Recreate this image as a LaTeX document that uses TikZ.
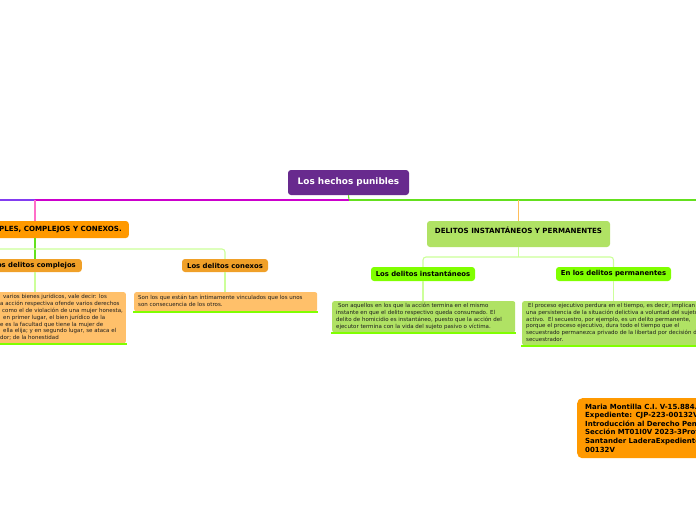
\documentclass[tikz,border=0pt]{standalone}
\usepackage{fontspec}
\setmainfont{DejaVu Sans}
\definecolor{purp}{RGB}{104,42,142}
\definecolor{orA}{RGB}{255,153,0}
\definecolor{orB}{RGB}{240,160,40}
\definecolor{orL}{RGB}{255,192,106}
\definecolor{grL}{RGB}{176,226,100}
\definecolor{grB}{RGB}{128,255,0}
\definecolor{lnMag}{RGB}{204,0,204}
\definecolor{lnBlu}{RGB}{130,60,240}
\definecolor{lnGr}{RGB}{100,224,30}
\definecolor{lnLg}{RGB}{204,255,153}
\definecolor{lnPink}{RGB}{255,110,200}
\definecolor{lnOr}{RGB}{255,190,90}
\definecolor{txt}{RGB}{30,30,30}
\tikzset{
  box/.style={rounded corners=3pt, draw=none, inner sep=0pt},
  ttl/.style={font=\bfseries\fontsize{7.1}{8}\selectfont, text=black},
  sttl/.style={font=\bfseries\fontsize{6.85}{8}\selectfont, text=black},
  small/.style={font=\fontsize{5.5}{6.8}\selectfont, text=txt, align=left, inner sep=0pt},
  conn/.style={line width=1.1pt},
  uline/.style={line width=2pt, draw=grB},
}
\begin{document}
\begin{tikzpicture}[x=1pt,y=-1pt]
\useasboundingbox (0,0) rectangle (696,520);
\fill[white] (0,0) rectangle (696,520);

% root
\node[box, fill=purp, minimum width=121pt, minimum height=25pt, text=white,
  font=\bfseries\fontsize{8.9}{10}\selectfont] (root) at (348.5,182.5) {Los hechos punibles};

% main junction
\coordinate (j) at (349,200);
\coordinate (k1) at (35,200);
\coordinate (lend) at (0,200);
\coordinate (rend) at (696,200);
\coordinate (k2) at (518.5,200);

% left branch
\node[box, fill=orA, minimum height=17pt, inner xsep=7pt, ttl, anchor=east] (simple) at (129,229.5) {DELITOS SIMPLES, COMPLEJOS Y CONEXOS.};
\node[box, fill=orB, minimum height=13pt, inner xsep=6pt, sttl, anchor=east] (compl) at (82,265.5) {Los delitos complejos};
\node[box, fill=orB, minimum width=86pt, minimum height=13pt, sttl] (conex) at (225,265.5) {Los delitos conexos};

\node[box, rounded corners=2pt, fill=orL, minimum width=200pt, minimum height=51pt, anchor=north east] (ctext) at (126,292) {};
\node[small, anchor=north west] (ctextt) at (0,294.3) {\hspace*{3pt}varios bienes jurídicos, vale decir: los\\
a acción respectiva ofende varios derechos\\
\hspace*{2pt}como el de violación de una mujer honesta,\\
\hspace*{3pt}en primer lugar, el bien jurídico de la\\
e es la facultad que tiene la mujer de\\
\hspace*{3pt}ella elija; y en segundo lugar, se ataca el\\
dor; de la honestidad};

\node[box, rounded corners=2pt, fill=orL, minimum width=183pt, minimum height=19pt, anchor=north west] (xtext) at (134,292) {};
\node[small, anchor=north west] (xtextt) at (138,295) {Son los que están tan íntimamente vinculados que los unos\\
son consecuencia de los otros.};

% right branch
\node[box, fill=grL, minimum width=183pt, minimum height=26pt] (dip) at (518.5,234) {};
\node[ttl] (dipt) at (518.5,230.5) {DELITOS INSTANTÁNEOS Y PERMANENTES};
\node[box, fill=grB, minimum width=104pt, minimum height=14pt, sttl] (inst) at (423,274) {Los delitos instantáneos};
\node[box, fill=grB, minimum width=115pt, minimum height=14pt, sttl] (perm) at (613.5,274) {En los delitos permanentes};

\node[box, rounded corners=2pt, fill=grL, minimum width=183pt, minimum height=31pt, anchor=north west] (itext) at (332,301) {};
\node[small, anchor=north west, font=\fontsize{5.5}{6.7}\selectfont] (itextt) at (336,303.3) {\hspace*{2pt}Son aquellos en los que la acción termina en el mismo\\
instante en que el delito respectivo queda consumado. El\\
delito de homicidio es instantáneo, puesto que la acción del\\
ejecutor termina con la vida del sujeto pasivo o víctima.};

\node[box, rounded corners=2pt, fill=grL, minimum width=200pt, minimum height=44pt, anchor=north west] (ptext) at (522,301) {};
\node[small, anchor=north west, font=\fontsize{5.5}{6.7}\selectfont] (ptextt) at (526,303.3) {\hspace*{2pt}El proceso ejecutivo perdura en el tiempo, es decir, implican\\
una persistencia de la situación delictiva a voluntad del sujeto\\
activo.\ \ El secuestro, por ejemplo, es un delito permanente,\\
porque el proceso ejecutivo, dura todo el tiempo que el\\
secuestrado permanezca privado de la libertad por decisión del\\
secuestrador.};

% student box
\node[box, rounded corners=5pt, fill=orA, minimum width=150pt, minimum height=60pt, anchor=north west] (stud) at (577,398) {};
\node[anchor=north west, inner sep=0pt, align=left, font=\bfseries\fontsize{7}{8.6}\selectfont, text=black] (studt) at (585,403.6) {Maria Montilla C.I. V-15.884.\\
Expediente: CJP-223-00132V\\
Introducción al Derecho Penal\\
Sección MT01I0V 2023-3Profesor\\
Santander LaderaExpediente\\
00132V};

% connectors
\draw[conn, lnGr] (root.south) -- (j);
\draw[conn, lnMag] (j) -- (k1);
\draw[conn, lnBlu] (k1) -- (lend);
\draw[conn, lnGr] (j) -- (rend);
\draw[conn, lnPink] (k1) -- (k1 |- simple.north);
\draw[conn, lnGr] (k1 |- simple.south) -- (k1 |- compl.north);
\draw[conn, lnLg] (k1 |- compl.south) -- (k1 |- ctext.north);
\coordinate (lh) at (0,249);
\draw[conn, lnLg, rounded corners=3pt] (lh) -- (conex.north |- lh) -- (conex.north);
\draw[conn, lnLg] (conex.south) -- (conex.south |- xtext.north);
\draw[conn, lnOr] (k2) -- (dip.north);
\coordinate (rh) at (518.5,257);
\draw[conn, lnLg] (dip.south) -- (rh);
\draw[conn, lnLg, rounded corners=3pt] (inst.north) -- (inst.north |- rh) -- (perm.north |- rh) -- (perm.north);
\draw[conn, lnLg] (inst.south) -- (inst.south |- itext.north);
\draw[conn, lnLg] (perm.south) -- (perm.south |- ptext.north);

% underlines
\draw[uline] ([yshift=-1pt]ctext.south west) -- ([yshift=-1pt,xshift=1pt]ctext.south east);
\draw[uline] ([yshift=-1pt,xshift=-1pt]xtext.south west) -- ([yshift=-1pt,xshift=1pt]xtext.south east);
\draw[uline] ([yshift=-1pt,xshift=-1pt]itext.south west) -- ([yshift=-1pt,xshift=1pt]itext.south east);
\draw[uline] ([yshift=-1pt,xshift=-1pt]ptext.south west) -- ([yshift=-1pt]ptext.south east);
\end{tikzpicture}
\end{document}
